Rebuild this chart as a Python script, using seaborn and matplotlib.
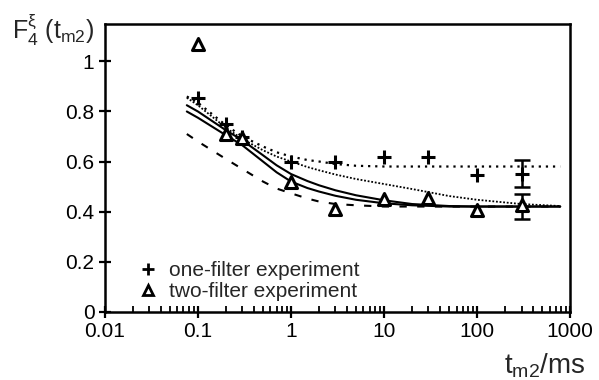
import numpy as np
import pandas as pd
import seaborn as sns
from matplotlib import pyplot as plt
from matplotlib.lines import Line2D

# measured points (t_m2 in ms)
t_pts = [0.1, 0.2, 0.3, 1, 3, 10, 30, 100, 300]
one_filter = [0.855, 0.75, 0.70, 0.60, 0.60, 0.62, 0.62, 0.548, 0.55]
two_filter = [1.07, 0.71, 0.695, 0.52, 0.41, 0.45, 0.455, 0.405, 0.425]

# error bars on the last point only
t_err = [300]
one_err_y = [0.553]
one_err = [0.055]
two_err_y = [0.42]
two_err = [0.05]

# curves
t_curve = [0.076, 0.1, 0.2, 0.3, 0.5, 0.7, 1, 1.5, 2, 3, 5, 10, 20, 50, 100, 300, 780]
fit_one = [0.86, 0.835, 0.745, 0.70, 0.66, 0.637, 0.62, 0.606, 0.60, 0.59, 0.583, 0.58, 0.58, 0.58, 0.58, 0.58, 0.58]
fit_slow = [0.855, 0.825, 0.735, 0.69, 0.645, 0.62, 0.60, 0.578, 0.565, 0.548, 0.53, 0.51, 0.49, 0.462, 0.447, 0.43, 0.422]
fit_up = [0.825, 0.80, 0.725, 0.685, 0.625, 0.585, 0.55, 0.522, 0.505, 0.485, 0.465, 0.445, 0.43, 0.422, 0.42, 0.42, 0.42]
fit_low = [0.80, 0.775, 0.705, 0.665, 0.60, 0.557, 0.52, 0.494, 0.48, 0.463, 0.447, 0.433, 0.425, 0.42, 0.42, 0.42, 0.42]
fit_dash = [0.71, 0.68, 0.61, 0.57, 0.52, 0.492, 0.473, 0.452, 0.44, 0.43, 0.425, 0.42, 0.42, 0.42, 0.42, 0.42, 0.42]

sns.set_style("ticks")
plt.rcParams['font.family'] = ['Liberation Sans', 'DejaVu Sans']
plt.rcParams['mathtext.fontset'] = 'custom'
plt.rcParams['mathtext.rm'] = 'Liberation Sans'
plt.rcParams['mathtext.it'] = 'Liberation Sans'

fig = plt.figure(figsize=(5.99, 3.8), dpi=100)
ax = fig.add_axes([0.175, 0.18, 0.777, 0.757])

curves = pd.DataFrame({"t": t_curve, "one": fit_one, "slow": fit_slow,
                       "up": fit_up, "low": fit_low, "dash": fit_dash})
sns.lineplot(data=curves, x="t", y="one", ax=ax, color="k", lw=1.6, linestyle=(0, (1, 2.2)))
sns.lineplot(data=curves, x="t", y="slow", ax=ax, color="k", lw=1.3, linestyle=(0, (1, 1)))
sns.lineplot(data=curves, x="t", y="up", ax=ax, color="k", lw=1.5)
sns.lineplot(data=curves, x="t", y="low", ax=ax, color="k", lw=1.5)
sns.lineplot(data=curves, x="t", y="dash", ax=ax, color="k", lw=1.5, linestyle=(0, (3.5, 5)))

pts = pd.DataFrame({"t": t_pts, "one": one_filter, "two": two_filter})
sns.scatterplot(data=pts, x="t", y="one", ax=ax, marker="+", s=100, color="k", linewidth=2.2, zorder=5)
sns.scatterplot(data=pts, x="t", y="two", ax=ax, marker="^", s=75, facecolor="white",
                edgecolor="k", linewidth=2.2, zorder=5)

ax.errorbar(t_err, one_err_y, yerr=one_err, fmt="none", ecolor="k", elinewidth=1.8, capsize=6, capthick=1.8)
ax.errorbar(t_err, two_err_y, yerr=two_err, fmt="none", ecolor="k", elinewidth=1.8, capsize=6, capthick=1.8)

ax.set_xscale("log")
ax.set_xlim(0.01, 1000)
ax.set_ylim(0, 1.15)
ax.set_xticks([0.01, 0.1, 1, 10, 100, 1000])
ax.set_xticklabels(["0.01", "0.1", "1", "10", "100", "1000"])
ax.set_yticks([0, 0.2, 0.4, 0.6, 0.8, 1])
ax.set_yticklabels(["0", "0.2", "0.4", "0.6", "0.8", "1"])
ax.tick_params(axis="both", which="major", direction="inout", length=9, width=1.6,
               labelsize=15, pad=3, color="k", labelcolor="k")
ax.tick_params(axis="x", which="minor", direction="in", length=4, width=1.3, color="k")
ax.set_xlabel("")
ax.set_ylabel("")
for s in ax.spines.values():
    s.set_linewidth(1.8)
    s.set_color("k")

fig.text(0.02, 0.897, r"F$_{4}^{\xi}$ (t$_{\mathrm{m2}}$)", fontsize=18, ha="left", va="baseline")
fig.text(0.977, 0.018, r"t$_{\mathrm{m2}}$/ms", fontsize=20, ha="right", va="baseline")

handles = [Line2D([], [], marker="+", ls="none", color="k", markersize=8, markeredgewidth=2),
           Line2D([], [], marker="^", ls="none", markerfacecolor="white", markeredgecolor="k",
                  markersize=7, markeredgewidth=2)]
ax.legend(handles, ["one-filter experiment", "two-filter experiment"], loc="lower left",
          bbox_to_anchor=(0.031, -0.028), frameon=False, fontsize=15, handlelength=1,
          handletextpad=0.5, labelspacing=0.1)

fig.savefig("out.png", dpi=100)
